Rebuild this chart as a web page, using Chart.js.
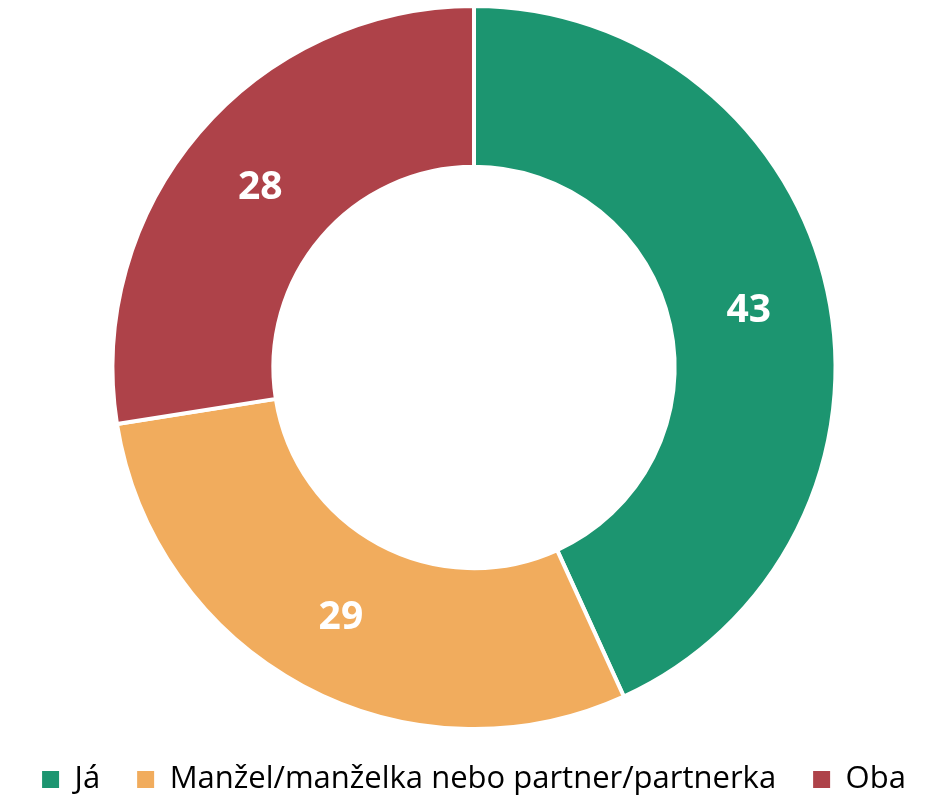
<!DOCTYPE html>
<html>
<head>
<meta charset="utf-8">
<script src="https://cdn.jsdelivr.net/npm/chart.js@4"></script>
<style>
  html, body { margin: 0; padding: 0; background: #fff; }
  #wrap { width: 948px; height: 800px; }
</style>
</head>
<body>
<div id="wrap"><canvas id="donut"></canvas></div>
<script>
// Data
const labels = ['Já', 'Manžel/manželka nebo partner/partnerka', 'Oba'];
const values = [43.2, 29.3, 27.5];
const colors = ['#1c9570', '#f1ac5d', '#ae4249'];

const legendGap = 37;

const valueLabels = {
    id: 'valueLabels',
    afterLayout(chart) {
        // Legende tiefer setzen, Abstand bleibt horizontal erhalten
        const lg = chart.legend;
        lg.top = 764 - legendGap;
        lg.bottom = 800;
        lg.height = lg.bottom - lg.top;
    },
    // Werte in die Ringmitte schreiben
    afterDatasetsDraw(chart) {
        const ctx = chart.ctx;
        const meta = chart.getDatasetMeta(0);
        ctx.save();
        ctx.fillStyle = '#ffffff';
        ctx.font = 'bold 39px "Open Sans", "Liberation Sans", sans-serif';
        ctx.textAlign = 'center';
        ctx.textBaseline = 'middle';
        meta.data.forEach((arc, i) => {
            const p = arc.tooltipPosition();
            ctx.fillText(String(Math.round(values[i])), p.x, p.y + 3);
        });
        ctx.restore();
    }
};

new Chart(document.getElementById('donut'), {
    type: 'doughnut',
    data: {
        labels: labels,
        datasets: [{
            data: values,
            backgroundColor: colors,
            borderColor: '#ffffff',
            borderWidth: 4
        }]
    },
    options: {
        responsive: true,
        maintainAspectRatio: false,
        animation: false,
        cutout: '55.5%',
        layout: { padding: { top: 4, bottom: 0 } },
        plugins: {
            legend: {
                position: 'bottom',
                maxHeight: 69,
                labels: {
                    boxWidth: 17,
                    boxHeight: 17,
                    padding: legendGap,
                    color: '#000',
                    font: { size: 31, family: '"Open Sans", "Liberation Sans", sans-serif' },
                    // Kaestchen ohne weissen Rand
                    generateLabels: (chart) => Chart.overrides.doughnut.plugins.legend.labels
                        .generateLabels(chart).map(item => ({ ...item, lineWidth: 0 }))
                }
            },
            tooltip: { enabled: false }
        }
    },
    plugins: [valueLabels]
});
</script>
</body>
</html>
